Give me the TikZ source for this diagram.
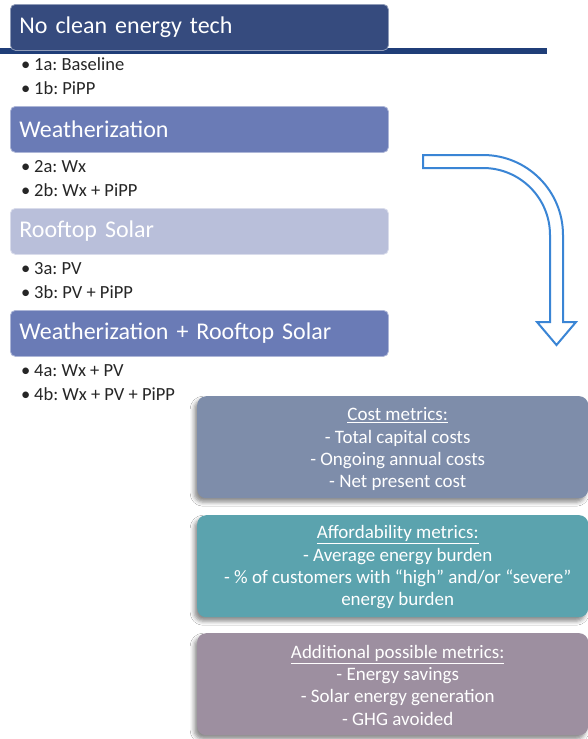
\documentclass[tikz,border=0pt]{standalone}
\usepackage{fontspec}
\setmainfont{Carlito}
\usetikzlibrary{shadows.blur}

\definecolor{navyhdr}{HTML}{364B7E}
\definecolor{ruleblue}{HTML}{203E78}
\definecolor{midhdr}{HTML}{6A7BB6}
\definecolor{palehdr}{HTML}{B9BFDA}
\definecolor{costfill}{HTML}{7E8DAA}
\definecolor{afffill}{HTML}{5BA3AE}
\definecolor{addfill}{HTML}{9D8FA0}
\definecolor{arrowblue}{HTML}{3A85D5}
\definecolor{bullettext}{HTML}{262626}

\newcommand\bul[1]{\makebox[13pt][l]{•}#1}
\newcommand\hdrfont{\fontsize{24}{28}\selectfont\spaceskip=5.3pt plus 1pt minus 1pt\relax}
\frenchspacing

\begin{document}
\begin{tikzpicture}[x=1pt,y=1pt,
  hdr/.style={draw=#1!55!white, line width=0.8pt, fill=#1, rounded corners=5pt,
    anchor=north west, minimum height=46pt, text width=360pt, align=left,
    inner xsep=9pt, inner ysep=0pt, text=white, font=\hdrfont},
  item/.style={anchor=base west, inner sep=0pt, text=bullettext,
    font=\fontsize{18.5}{22}\selectfont},
  metric/.style={fill=#1, rounded corners=9pt, anchor=north west,
    minimum width=391pt, minimum height=102pt, inner sep=0pt,
    blur shadow={shadow xshift=-3pt, shadow yshift=-4pt,
      shadow blur radius=4pt, shadow opacity=45}},
  mtext/.style={align=center, text=white, font=\fontsize{19}{22.3}\selectfont, inner sep=0pt}
]
\useasboundingbox (0,0) rectangle (588,-739);
\fill[white] (0,0) rectangle (588,-739);

% rule under the first heading
\coordinate (ruleL) at (0,-51);
\coordinate (ruleR) at (547,-51);
\draw[ruleblue, line width=6pt] (ruleL) -- (ruleR);

% scenario headings
\node[hdr=navyhdr] (h1) at (10,-4) {No clean energy tech};
\node[hdr=midhdr]  (h2) at (10,-106) {Weatherization};
\node[hdr=palehdr] (h3) at (10,-208) {Rooftop Solar};
\node[hdr=midhdr]  (h4) at (10,-310) {Weatherization + Rooftop Solar};

% scenario items
\node[item] (i1a) at (21,-70)  {\bul{1a: Baseline}};
\node[item] (i1b) at (21,-94)  {\bul{1b: PiPP}};
\node[item] (i2a) at (21,-172) {\bul{2a: Wx}};
\node[item] (i2b) at (21,-196) {\bul{2b: Wx + PiPP}};
\node[item] (i3a) at (21,-274) {\bul{3a: PV}};
\node[item] (i3b) at (21,-298) {\bul{3b: PV + PiPP}};
\node[item] (i4a) at (21,-376) {\bul{4a: Wx + PV}};
\node[item] (i4b) at (21,-400) {\bul{4b: Wx + PV + PiPP}};

% bent block arrow
\draw[arrowblue, line width=2pt, fill=white, line join=miter]
  (423,-155) -- (483,-155) arc (90:0:80) -- (563,-322) -- (576,-322)
  -- (556.5,-345) -- (537,-322) -- (550,-322) -- (550,-235)
  arc (0:90:67) -- (423,-168) -- cycle;

% metric panels
\node[metric=costfill] (m1) at (197,-396) {};
\node[mtext] (t1) at ([xshift=5pt,yshift=-2pt]m1.center)
  {\underline{Cost metrics:}\\- Total capital costs\\- Ongoing annual costs\\- Net present cost};

\node[metric=afffill] (m2) at (197,-515) {};
\node[mtext] (t2) at ([xshift=5pt,yshift=-1pt]m2.center)
  {\underline{Affordability metrics:}\\- Average energy burden\\- \% of customers with “high” and/or “severe”\\energy burden};

\node[metric=addfill] (m3) at (197,-633) {};
\node[mtext] (t3) at ([xshift=5pt,yshift=-1pt]m3.center)
  {\underline{Additional possible metrics:}\\- Energy savings\\- Solar energy generation\\- GHG avoided};
\end{tikzpicture}
\end{document}
